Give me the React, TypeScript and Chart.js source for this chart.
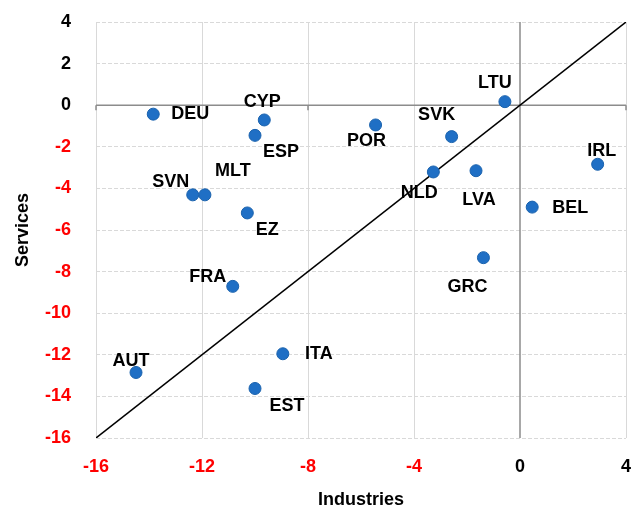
import { useEffect, useRef } from "react";
import { Chart, registerables } from "chart.js";

Chart.register(...registerables);

const countries = ["DEU", "CYP", "ESP", "SVN", "MLT", "EZ", "LTU", "POR", "SVK", "IRL", "NLD", "LVA", "BEL", "GRC", "FRA", "AUT", "ITA", "EST"];
const industries = [-13.84, -9.65, -10.0, -12.35, -11.89, -10.29, -0.57, -5.45, -2.58, 2.93, -3.27, -1.66, 0.46, -1.38, -10.84, -14.49, -8.95, -10.0];
const services = [-0.43, -0.71, -1.45, -4.31, -4.31, -5.18, 0.17, -0.95, -1.51, -2.84, -3.21, -3.15, -4.9, -7.33, -8.71, -12.85, -11.95, -13.62];
const diagonalX = [-16, 4];
const diagonalY = [-16, 4];
const xTicksRange = { min: -16, max: 4, step: 4 };
const yTicksRange = { min: -16, max: 4, step: 2 };

// label placement relative to each point (pixels), styling only
const labelOffset: Record<string, [number, number]> = {
  DEU: [37, 0], CYP: [-2, -18], ESP: [26, 17], SVN: [-22, -13], MLT: [28, -24],
  EZ: [20, 17], LTU: [-10, -19], POR: [-9, 16], SVK: [-15, -22], IRL: [4, -13],
  NLD: [-14, 21], LVA: [3, 29], BEL: [38, 1], GRC: [-16, 29], FRA: [-25, -9],
  AUT: [-5, -11], ITA: [36, 0], EST: [32, 18],
};

const FONT = "'Liberation Sans', Arial, sans-serif";

const zeroLines = {
  id: "zeroLines",
  beforeDatasetsDraw(chart: any) {
    const { ctx, chartArea, scales } = chart;
    const x0 = scales.x.getPixelForValue(0);
    const y0 = scales.y.getPixelForValue(0);
    ctx.save();
    ctx.strokeStyle = "#8c8c8c";
    ctx.lineWidth = 1.5;
    ctx.beginPath();
    ctx.moveTo(x0, chartArea.top);
    ctx.lineTo(x0, chartArea.bottom);
    ctx.moveTo(chartArea.left, y0);
    ctx.lineTo(chartArea.right, y0);
    [-16, -8, 4].forEach((v) => {
      const px = scales.x.getPixelForValue(v);
      ctx.moveTo(px, y0);
      ctx.lineTo(px, y0 + 5);
    });
    ctx.stroke();
    ctx.restore();
  },
};

const pointLabels = {
  id: "pointLabels",
  afterDatasetsDraw(chart: any) {
    const { ctx } = chart;
    const meta = chart.getDatasetMeta(0);
    ctx.save();
    ctx.font = `bold 18px ${FONT}`;
    ctx.fillStyle = "#000";
    ctx.textAlign = "center";
    ctx.textBaseline = "middle";
    meta.data.forEach((el: any, i: number) => {
      const name = countries[i];
      const [dx, dy] = labelOffset[name] || [0, -15];
      ctx.fillText(name, el.x + dx, el.y + dy);
    });
    ctx.restore();
  },
};

const zeroPad = (s: any) => {
  s.paddingTop = 0;
  s.paddingBottom = 0;
  s.paddingLeft = 0;
  s.paddingRight = 0;
};

export default function App() {
  const ref = useRef<HTMLCanvasElement>(null);
  useEffect(() => {
    if (!ref.current) return;
    const chart = new Chart(ref.current, {
      type: "scatter",
      data: {
        datasets: [
          {
            data: countries.map((_, i) => ({ x: industries[i], y: services[i] })),
            backgroundColor: "#1f6fc5",
            borderColor: "#1a62ad",
            borderWidth: 1,
            pointRadius: 6,
            order: 0,
          },
          {
            type: "line",
            data: diagonalX.map((x, i) => ({ x, y: diagonalY[i] })),
            borderColor: "#000",
            borderWidth: 1.5,
            pointRadius: 0,
            fill: false,
            order: 1,
          } as any,
        ],
      },
      options: {
        animation: false,
        responsive: false,
        layout: { padding: { top: 22, right: 13, left: 0, bottom: 0 } },
        plugins: { legend: { display: false }, tooltip: { enabled: false } },
        scales: {
          x: {
            type: "linear",
            min: xTicksRange.min,
            max: xTicksRange.max,
            ticks: {
              stepSize: xTicksRange.step,
              padding: 18,
              font: { family: FONT, size: 18, weight: "bold" },
              color: (c: any) => (c.tick && c.tick.value < 0 ? "#ff0000" : "#000000"),
            },
            grid: {
              drawTicks: false,
              color: (c: any) => (c.tick && c.tick.value === 0 ? "rgba(0,0,0,0)" : "#d9d9d9"),
              lineWidth: 1,
            },
            border: { display: false },
            title: {
              display: true,
              text: "Industries",
              color: "#000",
              font: { family: FONT, size: 18, weight: "bold" },
              padding: { top: 0, bottom: 0 },
            },
            afterFit: (s: any) => {
              s.height = 73;
              zeroPad(s);
            },
          },
          y: {
            type: "linear",
            min: yTicksRange.min,
            max: yTicksRange.max,
            ticks: {
              stepSize: yTicksRange.step,
              padding: 25,
              font: { family: FONT, size: 18, weight: "bold" },
              color: (c: any) => (c.tick && c.tick.value < 0 ? "#ff0000" : "#000000"),
            },
            grid: {
              drawTicks: false,
              color: (c: any) => (c.tick && c.tick.value === 0 ? "rgba(0,0,0,0)" : "#d9d9d9"),
              lineWidth: 1,
            },
            border: { display: false, dash: [4, 2] },
            title: {
              display: true,
              text: "Services",
              color: "#000",
              font: { family: FONT, size: 18, weight: "bold" },
              padding: { top: 12, bottom: 0 },
            },
            afterFit: (s: any) => {
              s.width = 96;
              zeroPad(s);
            },
          },
        },
      },
      plugins: [zeroLines, pointLabels],
    });
    return () => chart.destroy();
  }, []);
  return (
    <div style={{ position: "fixed", left: 0, top: 0, width: 639, height: 511, background: "#fff" }}>
      <canvas ref={ref} width={639} height={511} style={{ display: "block" }} />
    </div>
  );
}
